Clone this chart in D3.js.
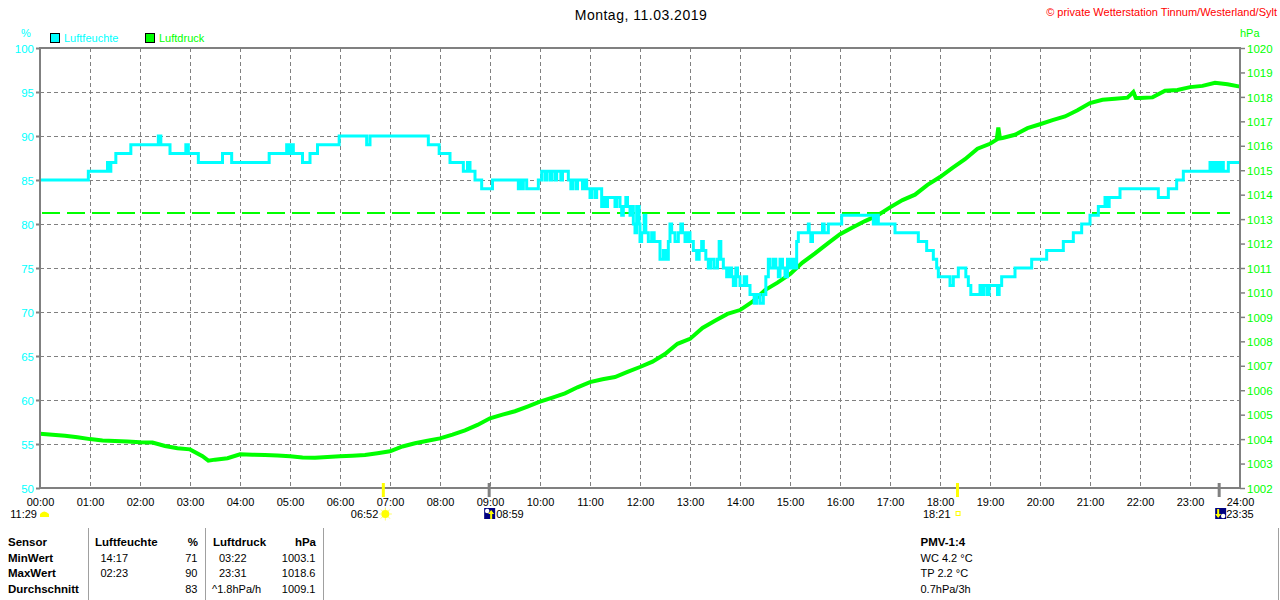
<!DOCTYPE html>
<html>
<head>
<meta charset="utf-8">
<script src="https://cdn.jsdelivr.net/npm/d3@7"></script>
<style>
  body { margin: 0; background: #fff; }
  svg { display: block; font-family: "Liberation Sans", Arial, sans-serif; }
</style>
</head>
<body>
<div id="canvas"></div>
<script>
const title = 'Montag, 11.03.2019'
const copyright = '\u00a9 private Wetterstation Tinnum/Westerland/Sylt'
const seriesNames = ['Luftfeuchte', 'Luftdruck']

const hourLabels = ['00:00', '01:00', '02:00', '03:00', '04:00', '05:00', '06:00', '07:00', '08:00',
  '09:00', '10:00', '11:00', '12:00', '13:00', '14:00', '15:00', '16:00', '17:00', '18:00',
  '19:00', '20:00', '21:00', '22:00', '23:00', '24:00']
const humidityTicks = [50, 55, 60, 65, 70, 75, 80, 85, 90, 95, 100]
const pressureTicks = [1002, 1003, 1004, 1005, 1006, 1007, 1008, 1009, 1010, 1011, 1012,
  1013, 1014, 1015, 1016, 1017, 1018, 1019, 1020]
const normalPressure = 1013.25

// Luftfeuchte: Zeitpunkte der Wertänderung (%)
const humTimes = ['00:00', '00:58', '01:21', '01:23', '01:25', '01:31', '01:49', '02:22', '02:25', '02:36',
  '02:55', '02:58', '03:10', '03:39', '03:50', '04:35', '04:56', '04:59', '05:01', '05:04',
  '05:15', '05:24', '05:33', '05:59', '06:32', '06:36', '07:46', '07:59', '08:12', '08:28',
  '08:33', '08:36', '08:42', '08:50', '09:03', '09:34', '09:36', '09:38', '09:40', '09:44',
  '09:58', '10:02', '10:06', '10:08', '10:12', '10:14', '10:18', '10:20', '10:25', '10:27',
  '10:34', '10:37', '10:39', '10:43', '10:45', '10:51', '10:53', '10:56', '11:00', '11:02',
  '11:06', '11:08', '11:14', '11:16', '11:19', '11:21', '11:30', '11:32', '11:36', '11:38',
  '11:40', '11:43', '11:45', '11:48', '11:50', '11:52', '11:54', '11:56', '11:59', '12:00',
  '12:02', '12:05', '12:07', '12:10', '12:14', '12:17', '12:24', '12:28', '12:31', '12:34',
  '12:36', '12:38', '12:42', '12:46', '12:49', '12:51', '12:54', '12:57', '13:00', '13:04',
  '13:08', '13:11', '13:14', '13:16', '13:19', '13:22', '13:25', '13:29', '13:33', '13:35',
  '13:37', '13:40', '13:44', '13:47', '13:50', '13:52', '13:55', '13:57', '14:00', '14:05',
  '14:08', '14:12', '14:17', '14:20', '14:24', '14:28', '14:31', '14:34', '14:36', '14:40',
  '14:43', '14:46', '14:48', '14:51', '14:54', '14:57', '15:00', '15:03', '15:06', '15:08',
  '15:10', '15:22', '15:23', '15:25', '15:27', '15:39', '15:41', '15:46', '16:02', '16:40',
  '16:41', '16:43', '16:44', '16:46', '17:06', '17:34', '17:44', '17:52', '17:56', '17:58',
  '18:12', '18:16', '18:22', '18:31', '18:34', '18:37', '18:48', '18:51', '18:53', '18:57',
  '18:59', '19:09', '19:11', '19:14', '19:30', '19:50', '20:08', '20:28', '20:40', '20:50',
  '21:00', '21:10', '21:18', '21:21', '21:23', '21:36', '22:22', '22:34', '22:44', '22:52',
  '23:24', '23:26', '23:28', '23:30', '23:33', '23:35', '23:38', '23:40', '23:46', '24:00']
const humValues = [85, 86, 87, 86, 87, 88, 89, 90, 89, 88,
  89, 88, 87, 88, 87, 88, 89, 88, 89, 88,
  87, 88, 89, 90, 89, 90, 89, 88, 87, 86,
  87, 86, 85, 84, 85, 84, 85, 84, 85, 84,
  85, 86, 85, 86, 85, 86, 85, 86, 85, 86,
  85, 84, 85, 84, 85, 84, 85, 84, 83, 84,
  83, 84, 82, 83, 82, 83, 82, 83, 82, 81,
  82, 83, 82, 81, 82, 80, 79, 82, 80, 78,
  79, 81, 79, 78, 79, 78, 76, 77, 76, 78,
  80, 79, 78, 79, 80, 79, 78, 79, 78, 77,
  76, 77, 78, 77, 76, 75, 76, 75, 76, 78,
  76, 75, 74, 75, 74, 73, 75, 74, 73, 74,
  73, 72, 71, 72, 71, 72, 74, 76, 75, 76,
  75, 74, 76, 75, 74, 76, 75, 76, 75, 78,
  79, 80, 79, 78, 79, 80, 79, 80, 81, 80,
  81, 80, 81, 80, 79, 78, 77, 76, 75, 74,
  73, 74, 75, 74, 73, 72, 73, 72, 73, 72,
  73, 72, 73, 74, 75, 76, 77, 78, 79, 80,
  81, 82, 83, 82, 83, 84, 83, 84, 85, 86,
  87, 86, 87, 86, 87, 86, 87, 86, 87, 87]

// Luftdruck (hPa)
const pressTimes = ['00:00', '00:15', '00:30', '00:45', '01:00', '01:15', '01:30', '01:45', '02:00', '02:15',
  '02:30', '02:45', '03:00', '03:15', '03:22', '03:30', '03:45', '04:00', '04:15', '04:30',
  '04:45', '05:00', '05:15', '05:30', '05:45', '06:00', '06:15', '06:30', '06:45', '07:00',
  '07:15', '07:30', '07:45', '08:00', '08:15', '08:30', '08:45', '09:00', '09:15', '09:30',
  '09:45', '10:00', '10:15', '10:30', '10:45', '11:00', '11:15', '11:30', '11:45', '12:00',
  '12:15', '12:30', '12:45', '13:00', '13:15', '13:30', '13:45', '14:00', '14:15', '14:30',
  '14:45', '15:00', '15:15', '15:30', '15:45', '16:00', '16:15', '16:30', '16:45', '17:00',
  '17:15', '17:30', '17:45', '18:00', '18:15', '18:30', '18:45', '19:00', '19:08', '19:10',
  '19:12', '19:15', '19:30', '19:45', '20:00', '20:15', '20:30', '20:45', '21:00', '21:15',
  '21:30', '21:45', '21:52', '21:55', '22:00', '22:15', '22:30', '22:45', '23:00', '23:15',
  '23:30', '23:45', '24:00']
const pressValues = [1004.22, 1004.18, 1004.14, 1004.08, 1004.00, 1003.94, 1003.92, 1003.90, 1003.87, 1003.86,
  1003.72, 1003.63, 1003.58, 1003.30, 1003.12, 1003.16, 1003.22, 1003.38, 1003.36, 1003.35,
  1003.33, 1003.30, 1003.25, 1003.24, 1003.27, 1003.30, 1003.32, 1003.35, 1003.42, 1003.50,
  1003.70, 1003.83, 1003.93, 1004.03, 1004.18, 1004.36, 1004.58, 1004.85, 1005.00, 1005.14,
  1005.33, 1005.53, 1005.70, 1005.87, 1006.12, 1006.33, 1006.45, 1006.54, 1006.75, 1006.95,
  1007.17, 1007.48, 1007.90, 1008.10, 1008.55, 1008.84, 1009.12, 1009.28, 1009.62, 1010.10,
  1010.40, 1010.75, 1011.22, 1011.60, 1012.00, 1012.38, 1012.66, 1012.92, 1013.15, 1013.48,
  1013.78, 1014.00, 1014.40, 1014.72, 1015.10, 1015.45, 1015.88, 1016.08, 1016.25, 1016.75,
  1016.30, 1016.32, 1016.45, 1016.72, 1016.88, 1017.05, 1017.20, 1017.45, 1017.75, 1017.88,
  1017.92, 1017.97, 1018.20, 1017.95, 1017.95, 1017.98, 1018.25, 1018.28, 1018.40, 1018.45,
  1018.58, 1018.52, 1018.42]

// Sonne / Mond
const moonPhaseTime = '11:29'
const sunrise = '06:52'
const moonrise = '08:59'
const sunset = '18:21'
const moonset = '23:35'

// Tabelle
const tableHeader = ['Sensor', 'Luftfeuchte', '%', 'Luftdruck', 'hPa']
const rowLabels = ['MinWert', 'MaxWert', 'Durchschnitt']
const humTimeCol = ['14:17', '02:23', '']
const humValCol = ['71', '90', '83']
const pressTimeCol = ['03:22', '23:31', '^1.8hPa/h']
const pressValCol = ['1003.1', '1018.6', '1009.1']
const pmvLines = ['PMV-1:4', 'WC 4.2 \u00b0C', 'TP 2.2 \u00b0C', '0.7hPa/3h']

const CYAN = '#00ffff'
const GREEN = '#00ff00'
const GREY = '#808080'

const toMin = (s) => {
  const p = s.split(':')
  return +p[0] * 60 + +p[1]
}

const width = 1280
const height = 600
const plot = { left: 40, right: 1240, top: 48, bottom: 488 }

const svg = d3.select('#canvas').append('svg').attr('width', width).attr('height', height)

const x = d3.scaleLinear().domain([0, 1440]).range([plot.left, plot.right])
const yH = d3.scaleLinear().domain([50, 100]).range([plot.bottom, plot.top])
const yP = d3.scaleLinear().domain([1002, 1020]).range([plot.bottom, plot.top])

// Titel etc
svg.append('text').attr('x', 641).attr('y', 19.5).attr('text-anchor', 'middle')
  .style('font-size', '14px').style('letter-spacing', '0.5px').attr('fill', '#000').text(title)
svg.append('text').attr('x', 1277).attr('y', 16).attr('text-anchor', 'end')
  .style('font-size', '11px').attr('fill', '#ff0000').text(copyright)

svg.append('text').attr('x', 26).attr('y', 37).attr('text-anchor', 'middle')
  .style('font-size', '11px').attr('fill', CYAN).text('%')
svg.append('text').attr('x', 1240).attr('y', 36.5)
  .style('font-size', '11px').attr('fill', GREEN).text('hPa')

// Legende
const legend = svg.selectAll('.legend').data(seriesNames).enter().append('g')
  .attr('transform', (d, i) => `translate(${i === 0 ? 50 : 145},33)`)
legend.append('rect').attr('x', 0.5).attr('y', 0.5).attr('width', 9).attr('height', 9)
  .attr('fill', (d, i) => (i === 0 ? CYAN : GREEN)).attr('stroke', '#000')
legend.append('text').attr('x', 14).attr('y', 8.7).style('font-size', '11px')
  .attr('fill', (d, i) => (i === 0 ? CYAN : GREEN)).text((d) => d)

// Gitter
const grid = svg.append('g').attr('stroke', GREY).attr('stroke-width', 1).attr('stroke-dasharray', '4,3')
grid.selectAll('.vg').data(hourLabels.slice(1, -1)).enter().append('line')
  .attr('x1', (d) => Math.round(x(toMin(d))) + 0.5).attr('x2', (d) => Math.round(x(toMin(d))) + 0.5)
  .attr('y1', plot.top).attr('y2', plot.bottom)
grid.selectAll('.hg').data(humidityTicks.slice(1, -1)).enter().append('line')
  .attr('x1', plot.left).attr('x2', plot.right)
  .attr('y1', (d) => Math.round(yH(d)) + 0.5).attr('y2', (d) => Math.round(yH(d)) + 0.5)

// Normaldruck
svg.append('line').attr('x1', plot.left + 2).attr('x2', plot.right - 10)
  .attr('y1', yP(normalPressure)).attr('y2', yP(normalPressure))
  .attr('stroke', GREEN).attr('stroke-width', 2).attr('stroke-dasharray', '18,7')

// Kurven
const pressData = pressTimes.map((t, i) => ({ t: toMin(t), v: pressValues[i] }))
const humData = humTimes.map((t, i) => ({ t: toMin(t), v: humValues[i] }))

svg.append('path').datum(pressData)
  .attr('d', d3.line().x((d) => x(d.t)).y((d) => yP(d.v)))
  .attr('fill', 'none').attr('stroke', GREEN).attr('stroke-width', 4)

svg.append('path').datum(humData)
  .attr('d', d3.line().x((d) => x(d.t)).y((d) => yH(d.v)).curve(d3.curveStepAfter))
  .attr('fill', 'none').attr('stroke', CYAN).attr('stroke-width', 3)

// Rahmen
svg.append('rect').attr('x', plot.left).attr('y', plot.top)
  .attr('width', plot.right - plot.left).attr('height', plot.bottom - plot.top)
  .attr('fill', 'none').attr('stroke', GREY).attr('stroke-width', 2)

// Achsen
const yLeft = svg.append('g').attr('transform', `translate(${plot.left},0)`)
  .call(d3.axisLeft(yH).tickValues(humidityTicks).tickSize(4).tickPadding(2).tickFormat(d3.format('d')))
yLeft.select('.domain').remove()
yLeft.selectAll('line').attr('stroke', GREY).attr('stroke-width', 2)
yLeft.selectAll('text').attr('fill', CYAN).style('font-size', '11.5px').attr('dy', '0.36em')
  .style('font-family', '"Liberation Sans", Arial, sans-serif')

const yRight = svg.append('g').attr('transform', `translate(${plot.right},0)`)
  .call(d3.axisRight(yP).tickValues(pressureTicks).tickSize(5).tickPadding(2).tickFormat(d3.format('d')))
yRight.select('.domain').remove()
yRight.selectAll('line').attr('stroke', GREY).attr('stroke-width', 1.5)
yRight.selectAll('text').attr('fill', GREEN).style('font-size', '11.5px').attr('dy', '0.36em')
  .style('font-family', '"Liberation Sans", Arial, sans-serif')

const xAxis = svg.append('g').attr('transform', `translate(0,${plot.bottom})`)
  .call(d3.axisBottom(x).tickValues(hourLabels.map(toMin)).tickSize(0).tickPadding(10)
    .tickFormat((d, i) => hourLabels[i]))
xAxis.select('.domain').remove()
xAxis.selectAll('text').attr('fill', '#000').style('font-size', '11px')
  .style('font-family', '"Liberation Sans", Arial, sans-serif')

// Sonne- / Mond-Markierungen
const marks = svg.append('g')
;[[sunrise, '#ffff00'], [sunset, '#ffff00'], [moonrise, GREY], [moonset, GREY]].forEach((m) => {
  marks.append('line').attr('x1', x(toMin(m[0]))).attr('x2', x(toMin(m[0])))
    .attr('y1', 483).attr('y2', 497).attr('stroke', m[1]).attr('stroke-width', 3)
})

const evText = (tx, anchor, s) => svg.append('text').attr('x', tx).attr('y', 518)
  .attr('text-anchor', anchor).style('font-size', '11px').attr('fill', '#000').text(s)

// Mondphase links
evText(37, 'end', moonPhaseTime)
svg.append('path').attr('d', 'M40,517 L40,514 Q44,509 49,514 L49,517 Z').attr('fill', '#ffff00')

// Sonnenaufgang
const srx = x(toMin(sunrise))
evText(srx - 5, 'end', sunrise)
const sun = svg.append('g').attr('transform', `translate(${srx + 2},514)`)
d3.range(8).forEach((k) => {
  const a = (k * Math.PI) / 4
  sun.append('line').attr('x1', Math.cos(a) * 4).attr('y1', Math.sin(a) * 4)
    .attr('x2', Math.cos(a) * 6.5).attr('y2', Math.sin(a) * 6.5)
    .attr('stroke', '#ffff66').attr('stroke-width', 1)
})
sun.append('circle').attr('r', 4).attr('fill', '#ffff00')

// Mondaufgang
const mrx = x(toMin(moonrise))
svg.append('rect').attr('x', mrx - 5).attr('y', 508).attr('width', 11).attr('height', 11).attr('fill', '#000080')
svg.append('circle').attr('cx', mrx - 2).attr('cy', 511).attr('r', 2.2).attr('fill', '#fff')
svg.append('path').attr('d', `M${mrx + 2},510 L${mrx + 5},514 L${mrx + 3},514 L${mrx + 3},519 L${mrx + 1},519 L${mrx + 1},514 L${mrx - 1},514 Z`)
  .attr('fill', '#ffff00')
evText(mrx + 7, 'start', moonrise)

// Sonnenuntergang
const ssx = x(toMin(sunset))
evText(ssx - 7, 'end', sunset)
svg.append('rect').attr('x', ssx - 1.5).attr('y', 511.5).attr('width', 4).attr('height', 4)
  .attr('fill', 'none').attr('stroke', '#ffff00').attr('stroke-width', 1)

// Monduntergang
const msx = x(toMin(moonset))
svg.append('rect').attr('x', msx - 4).attr('y', 508).attr('width', 11).attr('height', 11).attr('fill', '#000080')
svg.append('circle').attr('cx', msx + 4).attr('cy', 516).attr('r', 2.2).attr('fill', '#fff')
svg.append('path').attr('d', `M${msx - 2},509 L${msx},509 L${msx},514 L${msx + 2},514 L${msx - 1},518 L${msx - 4},514 L${msx - 2},514 Z`)
  .attr('fill', '#ffff00')
evText(msx + 7, 'start', moonset)

// Tabelle
const table = svg.append('g').style('font-size', '11px').attr('fill', '#000')
;[88.5, 205.5, 323.5, 1278.5].forEach((lx) => {
  table.append('line').attr('x1', lx).attr('x2', lx).attr('y1', 528).attr('y2', 600)
    .attr('stroke', '#a0a0a0').attr('stroke-width', 1)
})
const rowY = [546, 562, 577, 593]
const bold = (tx, ty, s, anchor) => table.append('text').attr('x', tx).attr('y', ty)
  .attr('text-anchor', anchor || 'start').style('font-weight', 'bold').style('font-size', '11.5px').text(s)
const plain = (tx, ty, s, anchor) => table.append('text').attr('x', tx).attr('y', ty)
  .attr('text-anchor', anchor || 'start').text(s)

bold(8, rowY[0], tableHeader[0])
bold(95, rowY[0], tableHeader[1])
bold(198, rowY[0], tableHeader[2], 'end')
bold(213, rowY[0], tableHeader[3])
bold(316, rowY[0], tableHeader[4], 'end')
rowLabels.forEach((r, i) => {
  bold(8, rowY[i + 1], r)
  plain(100.5, rowY[i + 1], humTimeCol[i])
  plain(197.5, rowY[i + 1], humValCol[i], 'end')
  plain(i === 2 ? 212 : 219, rowY[i + 1], pressTimeCol[i])
  plain(315.5, rowY[i + 1], pressValCol[i], 'end')
})
pmvLines.forEach((s, i) => {
  if (i === 0) bold(920.5, rowY[i], s)
  else plain(920.5, rowY[i], s)
})
</script>
</body>
</html>
